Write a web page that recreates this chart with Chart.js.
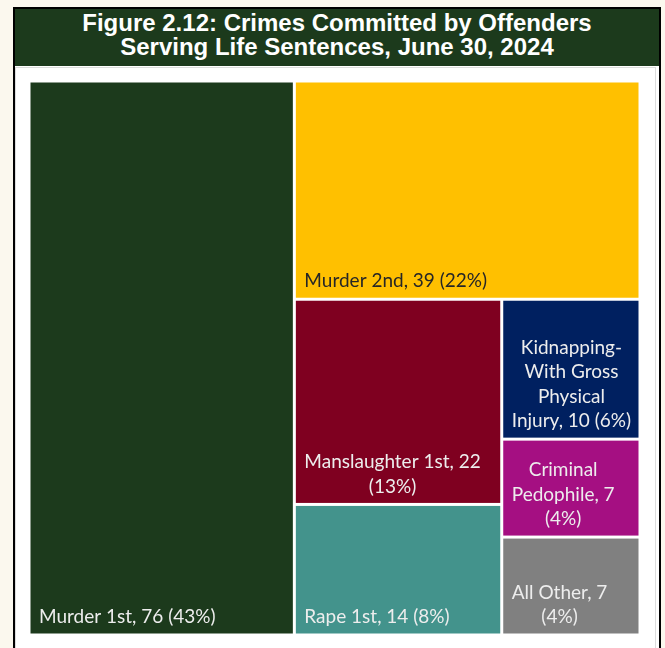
<!DOCTYPE html>
<html lang="en">
<head>
<meta charset="UTF-8">
<title>Crimes Committed by Offenders Serving Life Sentences</title>
<script src="https://cdn.jsdelivr.net/npm/chart.js"></script>
<style>
  body { margin: 0; background: #fbf8ee; }
  .frame {
    position: absolute; left: 13px; top: 7px;
    width: 644px; height: 660px;
    border: 2px solid #000; background: #fff;
  }
  .frame header {
    height: 55px; padding-top: 2px;
    background: #1c3a1c; color: #fff;
    font: bold 24px "Liberation Sans", Arial, sans-serif;
    line-height: 24px; text-align: center;
  }
  .chart-box {
    position: absolute; left: 0; top: 58px;
    width: 639px; height: 580px;
    border: 1px solid #dcdcdc;
  }
</style>
</head>
<body>
<div class="frame">
  <header>Figure 2.12: Crimes Committed by Offenders<br>Serving Life Sentences, June 30, 2024</header>
  <div class="chart-box">
    <canvas id="treeChart" width="639" height="580"></canvas>
  </div>
</div>

<script>
// Offenders serving life sentences, by crime (largest first)
const crimes = ['Murder 1st', 'Murder 2nd', 'Manslaughter 1st', 'Rape 1st',
                'Kidnapping-With Gross Physical Injury', 'Criminal Pedophile', 'All Other'];
const offenders = [76, 39, 22, 14, 10, 7, 7];
const cellColors = ['#1c3a1c', '#ffc000', '#7f0020', '#43938c', '#002060', '#a50f82', '#808080'];
const labelColors = ['#ededed', '#262626', '#ededed', '#ededed', '#ededed', '#ededed', '#ededed'];

// worst aspect ratio of a row laid along a side of given length
function worstRatio(row, side) {
  const sum = row.reduce((s, r) => s + r.a, 0);
  const mx = Math.max(...row.map(r => r.a));
  const mn = Math.min(...row.map(r => r.a));
  const s2 = side * side, sum2 = sum * sum;
  return Math.max(s2 * mx / sum2, sum2 / (s2 * mn));
}

// squarified layout in a W x H box, returned as fractions of the box
function squarify(values, W, H) {
  const total = values.reduce((a, b) => a + b, 0);
  const items = values.map((v, i) => ({ i, a: v * W * H / total }));
  const out = [];
  let rx = 0, ry = 0, rw = W, rh = H, k = 0;
  while (k < items.length) {
    const side = Math.min(rw, rh);
    const row = [items[k]];
    let j = k + 1;
    while (j < items.length && worstRatio(row.concat(items[j]), side) <= worstRatio(row, side)) {
      row.push(items[j]);
      j++;
    }
    const thick = row.reduce((s, r) => s + r.a, 0) / side;
    let off = 0;
    row.forEach(r => {
      const len = r.a / thick;
      if (rw >= rh) out[r.i] = { x0: rx, y0: ry + off, x1: rx + thick, y1: ry + off + len };
      else out[r.i] = { x0: rx + off, y0: ry, x1: rx + off + len, y1: ry + thick };
      off += len;
    });
    if (rw >= rh) { rx += thick; rw -= thick; } else { ry += thick; rh -= thick; }
    k = j;
  }
  return out.map(r => ({ x0: r.x0 / W, x1: r.x1 / W, y0: r.y0 / H, y1: r.y1 / H }));
}

// greedy wrap on spaces and after hyphens
function wrapLabel(ctx, text, maxW) {
  const parts = [];
  text.split(' ').forEach((w, wi) => {
    w.split(/(?<=-)/).forEach((p, pi) => parts.push({ t: p, sep: (pi === 0 && wi > 0) ? ' ' : '' }));
  });
  const lines = [];
  let cur = '';
  parts.forEach(p => {
    const trial = cur ? cur + p.sep + p.t : p.t;
    if (cur && ctx.measureText(trial).width > maxW) { lines.push(cur); cur = p.t; }
    else cur = trial;
  });
  if (cur) lines.push(cur);
  return lines;
}

const treemapCells = {
  id: 'treemapCells',
  afterDatasetsDraw(chart) {
    const ds = chart.data.datasets[0];
    const { ctx, chartArea: area, scales: { x, y } } = chart;
    const values = ds.tree;
    const total = values.reduce((a, b) => a + b, 0);
    const cells = squarify(values, area.right - area.left, area.bottom - area.top);
    const gap = 1.5;
    ctx.save();
    cells.forEach((c, i) => {
      const left = x.getPixelForValue(c.x0), right = x.getPixelForValue(c.x1);
      const top = y.getPixelForValue(c.y0), bottom = y.getPixelForValue(c.y1);
      ctx.fillStyle = ds.backgroundColor[i];
      ctx.fillRect(left + gap, top + gap, right - left - 2 * gap, bottom - top - 2 * gap);

      const pct = Math.round(values[i] / total * 100);
      const text = `${chart.data.labels[i]}, ${values[i]} (${pct}%)`;
      ctx.font = '19px Lato, "Open Sans", sans-serif';
      const pad = 10;
      const lines = wrapLabel(ctx, text, right - left - 2 * pad + 4);
      const blockW = Math.max(...lines.map(l => ctx.measureText(l).width));
      const cx = left + pad + blockW / 2;
      const lh = 24.5;
      ctx.fillStyle = ds.labelColors[i];
      ctx.textAlign = 'center';
      ctx.textBaseline = 'middle';
      lines.forEach((l, n) => {
        ctx.fillText(l, cx, bottom - 18 - (lines.length - 1 - n) * lh);
      });
    });
    ctx.restore();
  }
};

new Chart(document.getElementById('treeChart'), {
  type: 'scatter',
  data: {
    labels: crimes,
    datasets: [{
      data: [],
      tree: offenders,
      backgroundColor: cellColors,
      labelColors: labelColors
    }]
  },
  options: {
    responsive: false,
    animation: false,
    layout: { padding: { left: 13, top: 13, right: 15, bottom: 13 } },
    scales: {
      x: { type: 'linear', min: 0, max: 1, display: false },
      y: { type: 'linear', min: 0, max: 1, reverse: true, display: false }
    },
    plugins: { legend: { display: false }, tooltip: { enabled: false } }
  },
  plugins: [treemapCells]
});
</script>
</body>
</html>
